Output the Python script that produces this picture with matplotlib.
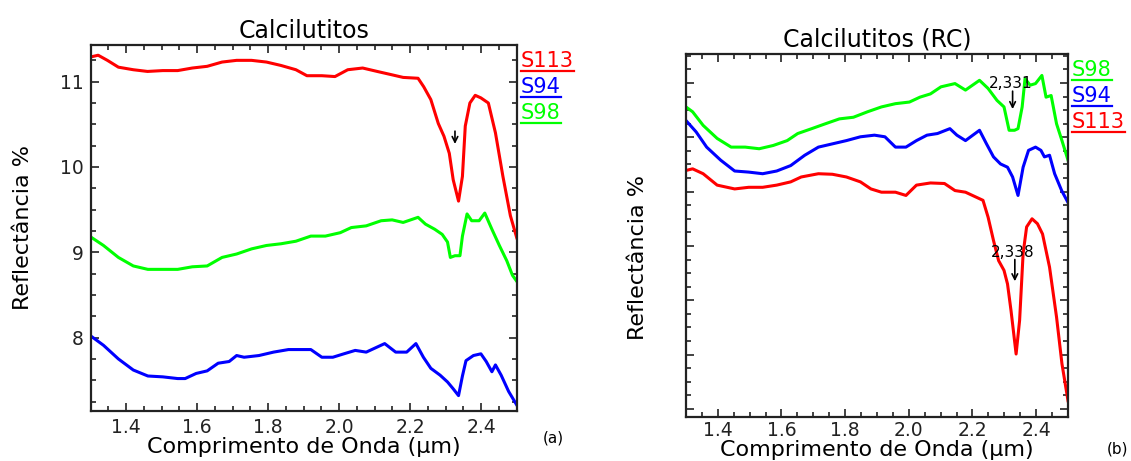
import matplotlib
matplotlib.use("Agg")
import matplotlib.pyplot as plt
from matplotlib.lines import Line2D
from matplotlib.ticker import MultipleLocator, NullFormatter

# ---- panel (a): reflectance % ----
wl_s113_a = [1.300, 1.321, 1.347, 1.378, 1.420, 1.460, 1.503, 1.545, 1.586, 1.628,
             1.670, 1.711, 1.753, 1.795, 1.836, 1.878, 1.909, 1.951, 1.988, 2.024,
             2.066, 2.107, 2.149, 2.180, 2.222, 2.238, 2.258, 2.279, 2.295, 2.310,
             2.321, 2.336, 2.347, 2.355, 2.368, 2.383, 2.399, 2.420, 2.440, 2.461,
             2.482, 2.500]
s113_a = [11.29, 11.31, 11.25, 11.17, 11.14, 11.12, 11.13, 11.13, 11.16, 11.18,
          11.23, 11.25, 11.25, 11.23, 11.19, 11.14, 11.07, 11.07, 11.06, 11.14,
          11.16, 11.12, 11.08, 11.05, 11.04, 10.94, 10.79, 10.51, 10.36, 10.16,
          9.85, 9.60, 9.89, 10.48, 10.75, 10.84, 10.81, 10.75, 10.40, 9.89,
          9.43, 9.17]

wl_s98_a = [1.300, 1.336, 1.378, 1.420, 1.461, 1.503, 1.545, 1.586, 1.628, 1.670,
            1.711, 1.753, 1.795, 1.836, 1.878, 1.920, 1.961, 2.003, 2.034, 2.076,
            2.118, 2.149, 2.180, 2.222, 2.243, 2.269, 2.290, 2.305, 2.313, 2.326,
            2.340, 2.347, 2.360, 2.373, 2.394, 2.410, 2.430, 2.451, 2.472, 2.488,
            2.500]
s98_a = [9.18, 9.08, 8.94, 8.84, 8.80, 8.80, 8.80, 8.83, 8.84, 8.94,
         8.98, 9.04, 9.08, 9.10, 9.13, 9.19, 9.19, 9.23, 9.29, 9.31,
         9.37, 9.38, 9.35, 9.41, 9.33, 9.27, 9.21, 9.12, 8.94, 8.96,
         8.96, 9.19, 9.45, 9.37, 9.37, 9.46, 9.27, 9.08, 8.90, 8.73,
         8.66]

wl_s94_a = [1.300, 1.336, 1.378, 1.420, 1.461, 1.503, 1.545, 1.566, 1.597, 1.628,
            1.659, 1.690, 1.711, 1.732, 1.774, 1.815, 1.857, 1.920, 1.951, 1.982,
            2.013, 2.045, 2.076, 2.128, 2.159, 2.190, 2.216, 2.237, 2.258, 2.284,
            2.305, 2.321, 2.336, 2.347, 2.357, 2.378, 2.399, 2.414, 2.430, 2.440,
            2.456, 2.477, 2.500]
s94_a = [8.02, 7.91, 7.75, 7.62, 7.55, 7.54, 7.52, 7.52, 7.58, 7.61,
         7.70, 7.72, 7.79, 7.77, 7.79, 7.83, 7.86, 7.86, 7.77, 7.77,
         7.81, 7.85, 7.83, 7.93, 7.83, 7.83, 7.93, 7.77, 7.64, 7.56,
         7.48, 7.40, 7.32, 7.55, 7.73, 7.79, 7.81, 7.72, 7.60, 7.68,
         7.56, 7.37, 7.21]

# ---- panel (b): continuum removed ----
wl_s98_b = [1.300, 1.321, 1.354, 1.398, 1.442, 1.486, 1.530, 1.574, 1.618, 1.651,
            1.695, 1.738, 1.782, 1.826, 1.870, 1.914, 1.958, 2.002, 2.035, 2.068,
            2.101, 2.145, 2.178, 2.222, 2.249, 2.277, 2.299, 2.315, 2.332, 2.343,
            2.356, 2.365, 2.381, 2.398, 2.418, 2.431, 2.447, 2.464, 2.481, 2.500]
s98_b = [0.956, 0.947, 0.922, 0.898, 0.882, 0.882, 0.879, 0.885, 0.894, 0.907,
         0.916, 0.925, 0.934, 0.937, 0.947, 0.956, 0.962, 0.965, 0.974, 0.980,
         0.993, 0.999, 0.987, 1.005, 0.990, 0.968, 0.956, 0.913, 0.913, 0.916,
         0.956, 1.008, 0.996, 0.999, 1.014, 0.974, 0.977, 0.925, 0.894, 0.858]

wl_s94_b = [1.300, 1.332, 1.365, 1.409, 1.453, 1.497, 1.541, 1.585, 1.629, 1.673,
            1.716, 1.760, 1.804, 1.848, 1.892, 1.925, 1.958, 1.991, 2.024, 2.057,
            2.090, 2.129, 2.151, 2.178, 2.222, 2.244, 2.266, 2.288, 2.310, 2.326,
            2.343, 2.359, 2.376, 2.398, 2.415, 2.426, 2.442, 2.458, 2.480, 2.500]
s94_b = [0.931, 0.910, 0.882, 0.858, 0.838, 0.836, 0.833, 0.838, 0.848, 0.867,
         0.882, 0.888, 0.894, 0.901, 0.904, 0.901, 0.882, 0.882, 0.894, 0.904,
         0.907, 0.916, 0.904, 0.894, 0.913, 0.888, 0.864, 0.851, 0.845, 0.827,
         0.793, 0.845, 0.876, 0.882, 0.876, 0.864, 0.867, 0.833, 0.802, 0.780]

wl_s113_b = [1.300, 1.321, 1.354, 1.398, 1.453, 1.497, 1.541, 1.585, 1.629, 1.662,
             1.716, 1.760, 1.804, 1.848, 1.881, 1.914, 1.958, 1.991, 2.024, 2.068,
             2.112, 2.145, 2.178, 2.211, 2.233, 2.249, 2.266, 2.282, 2.299, 2.310,
             2.321, 2.337, 2.348, 2.359, 2.370, 2.387, 2.404, 2.420, 2.442, 2.464,
             2.481, 2.500]
s113_b = [0.839, 0.842, 0.833, 0.812, 0.805, 0.808, 0.808, 0.812, 0.818, 0.827,
          0.833, 0.832, 0.827, 0.818, 0.805, 0.799, 0.799, 0.793, 0.812, 0.816,
          0.815, 0.802, 0.799, 0.790, 0.784, 0.753, 0.710, 0.673, 0.655, 0.630,
          0.581, 0.501, 0.563, 0.686, 0.735, 0.750, 0.741, 0.722, 0.661, 0.569,
          0.483, 0.415]

# absorption feature markers: (x, tail, tip, label)
arrows_a = [(2.326, 10.42, 10.27, "")]
arrows_b = [(2.326, 0.985, 0.952, "2,331"), (2.333, 0.675, 0.635, "2,338")]

RED, GREEN, BLUE = "#ff0000", "#00ff00", "#0000ff"
series_a = [(wl_s113_a, s113_a, "S113", RED), (wl_s94_a, s94_a, "S94", BLUE),
            (wl_s98_a, s98_a, "S98", GREEN)]
series_b = [(wl_s98_b, s98_b, "S98", GREEN), (wl_s94_b, s94_b, "S94", BLUE),
            (wl_s113_b, s113_b, "S113", RED)]

plt.rcParams["font.family"] = ["DejaVu Sans"]

fig = plt.figure(figsize=(11.31, 4.61), dpi=100)
ax1 = fig.add_axes([0.0802, 0.1085, 0.3767, 0.7939])
ax2 = fig.add_axes([0.6065, 0.0954, 0.3378, 0.7881])


def style_axes(ax, ymajor, yminor, pad):
    ax.set_xlim(1.3, 2.5)
    ax.xaxis.set_major_locator(MultipleLocator(0.2))
    ax.xaxis.set_minor_locator(MultipleLocator(0.05))
    ax.yaxis.set_major_locator(MultipleLocator(ymajor))
    ax.yaxis.set_minor_locator(MultipleLocator(yminor))
    ax.tick_params(which="both", direction="in", top=True, right=True,
                   width=1.2, colors="#222222")
    ax.tick_params(which="major", length=6, labelsize=13.5, pad=pad)
    ax.tick_params(which="minor", length=3.5)
    for sp in ax.spines.values():
        sp.set_linewidth(1.6)
        sp.set_color("#222222")


def draw_panel(ax, series, arrows):
    for wl, vals, name, col in series:
        ax.plot(wl, vals, color=col, lw=2.2)
    for x, tail, tip, label in arrows:
        ax.annotate("", xy=(x, tip), xytext=(x, tail),
                    arrowprops=dict(arrowstyle="->", color="black", lw=1.2,
                                    shrinkA=0, shrinkB=0))
        if label:
            ax.text(x - 0.006, tail, label, ha="center", va="bottom",
                    fontsize=11)


draw_panel(ax1, series_a, arrows_a)
draw_panel(ax2, series_b, arrows_b)

style_axes(ax1, 1, 0.25, 5)
ax1.set_ylim(7.14, 11.43)
ax1.set_yticks([8, 9, 10, 11])

style_axes(ax2, 0.1, 0.025, 3)
ax2.set_ylim(0.385, 1.054)
ax2.yaxis.set_major_formatter(NullFormatter())

ax1.set_title("Calcilutitos", fontsize=17, pad=5)
ax2.set_title("Calcilutitos (RC)", fontsize=17, pad=5)

for ax, ly, rx, ry in [(ax1, -0.072, -0.16, 0.5), (ax2, -0.062, -0.125, 0.44)]:
    ax.set_xlabel("Comprimento de Onda (μm)", fontsize=16)
    ax.xaxis.set_label_coords(0.5, ly)
    ax.xaxis.label.set_va("top")
    ax.set_ylabel("Reflectância %", fontsize=16)
    ax.yaxis.set_label_coords(rx, ry)
    ax.yaxis.label.set_va("center")

fig.text(0.489, 0.05, "(a)", fontsize=11, ha="center", va="center")
fig.text(0.988, 0.025, "(b)", fontsize=11, ha="center", va="center")

# colored legend names with underline, to the right of each panel
fig.canvas.draw()
renderer = fig.canvas.get_renderer()
for ax, series in [(ax1, series_a), (ax2, series_b)]:
    pos = ax.get_position()
    x0 = pos.x1 + 4 / 1131
    for i, (_, _, name, col) in enumerate(series):
        yb = pos.y1 - (22 + 26 * i) / 461
        t = fig.text(x0, yb, name, color=col, fontsize=15, ha="left",
                     va="baseline")
        bb = t.get_window_extent(renderer).transformed(fig.transFigure.inverted())
        yl = yb - 4.5 / 461
        fig.add_artist(Line2D([bb.x0, bb.x1], [yl, yl], color=col, lw=1.6,
                              transform=fig.transFigure))

fig.savefig("out.png", dpi=100)
